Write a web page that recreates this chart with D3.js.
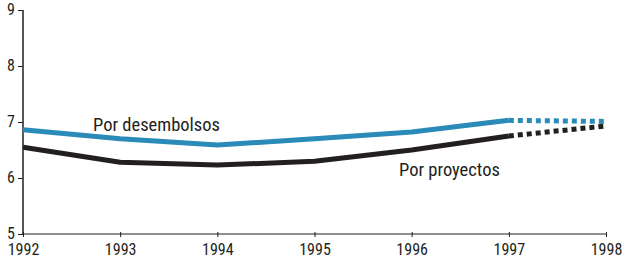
<!DOCTYPE html>
<html><head><meta charset="utf-8">
<script src="https://cdn.jsdelivr.net/npm/d3@7"></script>
<style>
body{margin:0;background:#fff;}
svg text{font-family:"Liberation Sans Narrow","Arial Narrow","Roboto Condensed","Liberation Sans",sans-serif;fill:#231f20;}
</style></head><body>
<svg id="c" width="622" height="261"></svg>
<script>
const years = [1992,1993,1994,1995,1996,1997,1998];
const yTicks = [5,6,7,8,9];
const desembolsos = [6.86,6.70,6.59,6.70,6.82,7.03,7.01];
const proyectos = [6.55,6.28,6.23,6.30,6.50,6.75,6.93];
const labels = ["Por desembolsos","Por proyectos"];

const svg = d3.select("#c");
const x = d3.scaleLinear().domain([1992,1998]).range([23,606]);
const y = d3.scaleLinear().domain([5,9]).range([234,10]);

// y axis
const ya = svg.append("g").attr("transform","translate(23,0)")
  .call(d3.axisLeft(y).tickValues(yTicks).tickSize(5).tickFormat(d3.format("d")));
ya.select(".domain").attr("stroke","#231f20").attr("stroke-width",1.5).attr("d","M0,10V234");
ya.selectAll(".tick line").attr("stroke","#231f20");
ya.selectAll("text").attr("font-size",16).attr("x",-8).attr("dy","0.3em");

// x axis
const xa = svg.append("g").attr("transform","translate(0,234)")
  .call(d3.axisBottom(x).tickValues(years).tickSize(3).tickFormat(d3.format("d")));
xa.select(".domain").attr("stroke","#231f20").attr("stroke-width",1.2).attr("d","M23,0H606");
xa.selectAll(".tick line").attr("stroke","#231f20").attr("y1",-2);
xa.selectAll("text").attr("font-size",16).attr("y",10).attr("dy","0.71em");

const line = d3.line().x((d,i)=>x(years[i])).y(d=>y(d));
function draw(vals,color){
  const solid = vals.slice(0,6);
  svg.append("path").attr("d",line(solid)).attr("fill","none").attr("stroke",color)
    .attr("stroke-width",5).attr("stroke-linejoin","round");
  const dl = d3.line().x((d,i)=>x(years[5+i])).y(d=>y(d));
  svg.append("path").attr("d",dl(vals.slice(5))).attr("fill","none").attr("stroke",color)
    .attr("stroke-width",5).attr("stroke-dasharray","5,4");
}
draw(proyectos,"#231f20");
draw(desembolsos,"#2a8ab8");

svg.append("text").attr("x",93).attr("y",131).attr("font-size",18.5).text(labels[0]);
svg.append("text").attr("x",399).attr("y",176).attr("font-size",18.5).text(labels[1]);
</script></body></html>
